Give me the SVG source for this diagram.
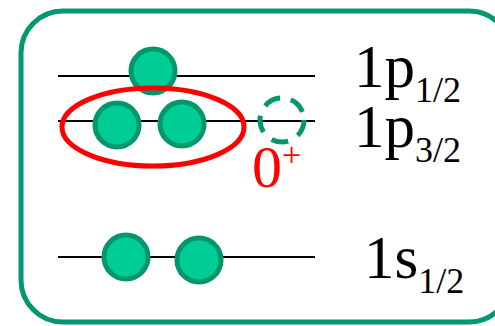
<svg xmlns="http://www.w3.org/2000/svg" width="495" height="326" viewBox="0 0 495 326">
<defs>
<style>
.lvl{stroke:#000;stroke-width:2;fill:none}
.p{fill:#00cc96;stroke:#00976c;stroke-width:5}
.hole{fill:none;stroke:#00976c;stroke-width:5;stroke-dasharray:17 11}
text{font-family:'Liberation Serif','Times New Roman',serif}
.lab{fill:#000}
.red{fill:#ff0000}
</style>
</defs>
<rect x="21" y="11" width="490" height="311" rx="42" ry="42" fill="#fff" stroke="#009870" stroke-width="5"/>
<g id="connectors">
<line class="lvl" x1="58" y1="76" x2="315" y2="76"/>
<line class="lvl" x1="58" y1="121" x2="315" y2="121"/>
<line class="lvl" x1="58" y1="257" x2="315" y2="257"/>
</g>
<g id="p1-2">
<circle class="p" cx="153" cy="71" r="22"/>
</g>
<g id="p3-2">
<circle class="p" cx="117" cy="125" r="22"/>
<circle class="p" cx="182" cy="124" r="22"/>
<circle class="hole" cx="282" cy="120" r="22"/>
</g>
<g id="pair">
<ellipse cx="153" cy="127" rx="91" ry="39" fill="none" stroke="#ff0000" stroke-width="5"/>
<text class="red" x="252" y="187" font-size="60" font-family="Liberation Serif, serif">0<tspan font-size="34" dy="-21">+</tspan></text>
</g>
<g id="s1-2">
<circle class="p" cx="126" cy="257" r="22"/>
<circle class="p" cx="199" cy="260" r="22"/>
</g>
<g id="labels">
<text class="lab" x="354" y="87" font-size="61" font-family="Liberation Serif, serif">1p<tspan font-size="36" dy="15">1/2</tspan></text>
<text class="lab" x="354" y="147" font-size="61" font-family="Liberation Serif, serif">1p<tspan font-size="36" dy="15">3/2</tspan></text>
<text class="lab" x="364" y="278" font-size="61" font-family="Liberation Serif, serif">1s<tspan font-size="36" dy="15">1/2</tspan></text>
</g>
</svg>
